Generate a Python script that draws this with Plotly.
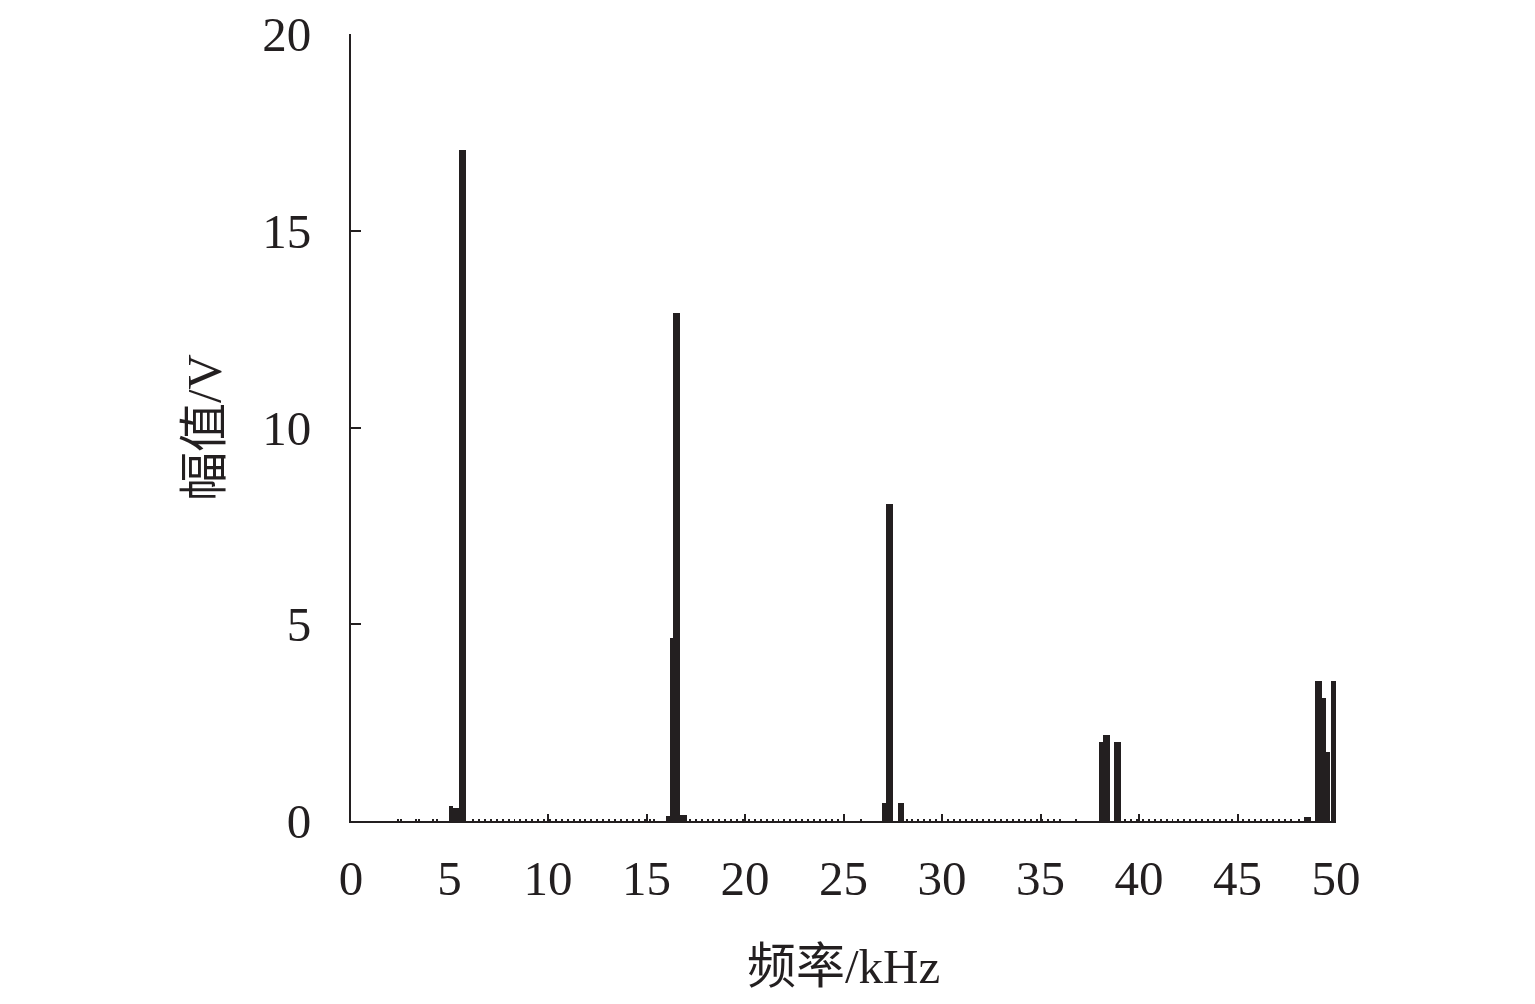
import plotly.graph_objects as go

# ---- data ----
peak_freq_khz = [5.08, 5.33, 5.66,
                 16.09, 16.26, 16.52, 16.88,
                 27.06, 27.34, 27.92,
                 38.07, 38.35, 38.91,
                 48.55, 49.11, 49.39, 49.60, 49.92]
peak_amp_v = [0.38, 0.33, 17.05,
              0.12, 4.65, 12.90, 0.15,
              0.45, 8.05, 0.45,
              2.00, 2.18, 2.00,
              0.10, 3.55, 3.12, 1.75, 3.55]
bin_width_khz = [0.20, 0.32, 0.34,
                 0.20, 0.18, 0.34, 0.34,
                 0.20, 0.34, 0.33,
                 0.22, 0.34, 0.35,
                 0.35, 0.35, 0.20, 0.20, 0.35]

noise_freq_khz = [2.38, 2.55, 3.30, 3.45, 4.16, 4.37,
                  6.2, 6.5, 6.8, 7.1, 7.4, 7.7, 8.0, 8.3, 8.6, 8.9, 9.2, 9.5, 9.8,
                  10.1, 10.4, 10.7, 11.0, 11.3, 11.6, 11.9, 12.2, 12.5, 12.8, 13.1,
                  13.4, 13.7, 14.0, 14.3, 14.6, 14.9, 15.2, 15.4,
                  17.2, 17.5, 17.8, 18.1, 18.4, 18.7, 19.0, 19.3, 19.6, 19.9, 20.2,
                  20.5, 20.8, 21.1, 21.4, 21.7, 22.0, 22.3, 22.6, 22.9, 23.2, 23.5,
                  23.8, 24.1, 24.4, 24.7, 25.0, 25.9,
                  28.2, 28.5, 28.8, 29.1, 29.4, 29.7, 30.0, 30.3, 30.6, 30.9, 31.2,
                  31.5, 31.8, 32.1, 32.4, 32.7, 33.0, 33.3, 33.6, 33.9, 34.2, 34.5,
                  34.8, 35.1, 35.4, 35.7, 36.0, 36.8,
                  39.3, 39.6, 39.9, 40.2, 40.5, 40.8, 41.1, 41.4, 41.7, 42.0, 42.3,
                  42.6, 42.9, 43.2, 43.5, 43.8, 44.1, 44.4, 44.7, 45.0, 45.3, 45.6,
                  45.9, 46.2, 46.5, 46.8, 47.1, 47.4, 47.7, 48.1]
noise_amp_v = [0.05] * len(noise_freq_khz)

x_ticks = [0, 5, 10, 15, 20, 25, 30, 35, 40, 45, 50]
y_ticks = [0, 5, 10, 15, 20]

x_title = "频率/kHz"
y_title = "幅值/V"

INK = "#231f20"
FONT = "Liberation Serif, Times New Roman, Noto Sans CJK SC, serif"
FS = 49

fig = go.Figure()
fig.add_trace(go.Bar(x=noise_freq_khz, y=noise_amp_v, width=0.05,
                     marker=dict(color=INK, line=dict(width=0)),
                     cliponaxis=False, showlegend=False))
fig.add_trace(go.Bar(x=peak_freq_khz, y=peak_amp_v, width=bin_width_khz,
                     marker=dict(color=INK, line=dict(width=0)),
                     cliponaxis=False, showlegend=False))

axis_common = dict(showline=True, linecolor=INK, linewidth=2, ticks="inside",
                   tickcolor=INK, tickwidth=2, showgrid=False, zeroline=False,
                   tickfont=dict(family=FONT, size=FS, color=INK),
                   ticklabeloverflow="allow", automargin=False)

fig.update_layout(
    width=1535, height=1004,
    margin=dict(l=343, r=207, t=26, b=191),
    paper_bgcolor="white", plot_bgcolor="white",
    barmode="overlay", bargap=0,
    font=dict(family=FONT, color=INK),
    xaxis=dict(range=[0, 50], tickvals=x_ticks, ticklen=7, ticklabelstandoff=13,
               title=dict(text=x_title, font=dict(family=FONT, size=FS, color=INK),
                          standoff=44),
               **axis_common),
    yaxis=dict(range=[0, 20.002], tickvals=y_ticks, ticklen=10, ticklabelstandoff=28,
               title=dict(text=y_title, font=dict(family=FONT, size=FS, color=INK),
                          standoff=25),
               **axis_common),
)

fig.write_html("out.html")
